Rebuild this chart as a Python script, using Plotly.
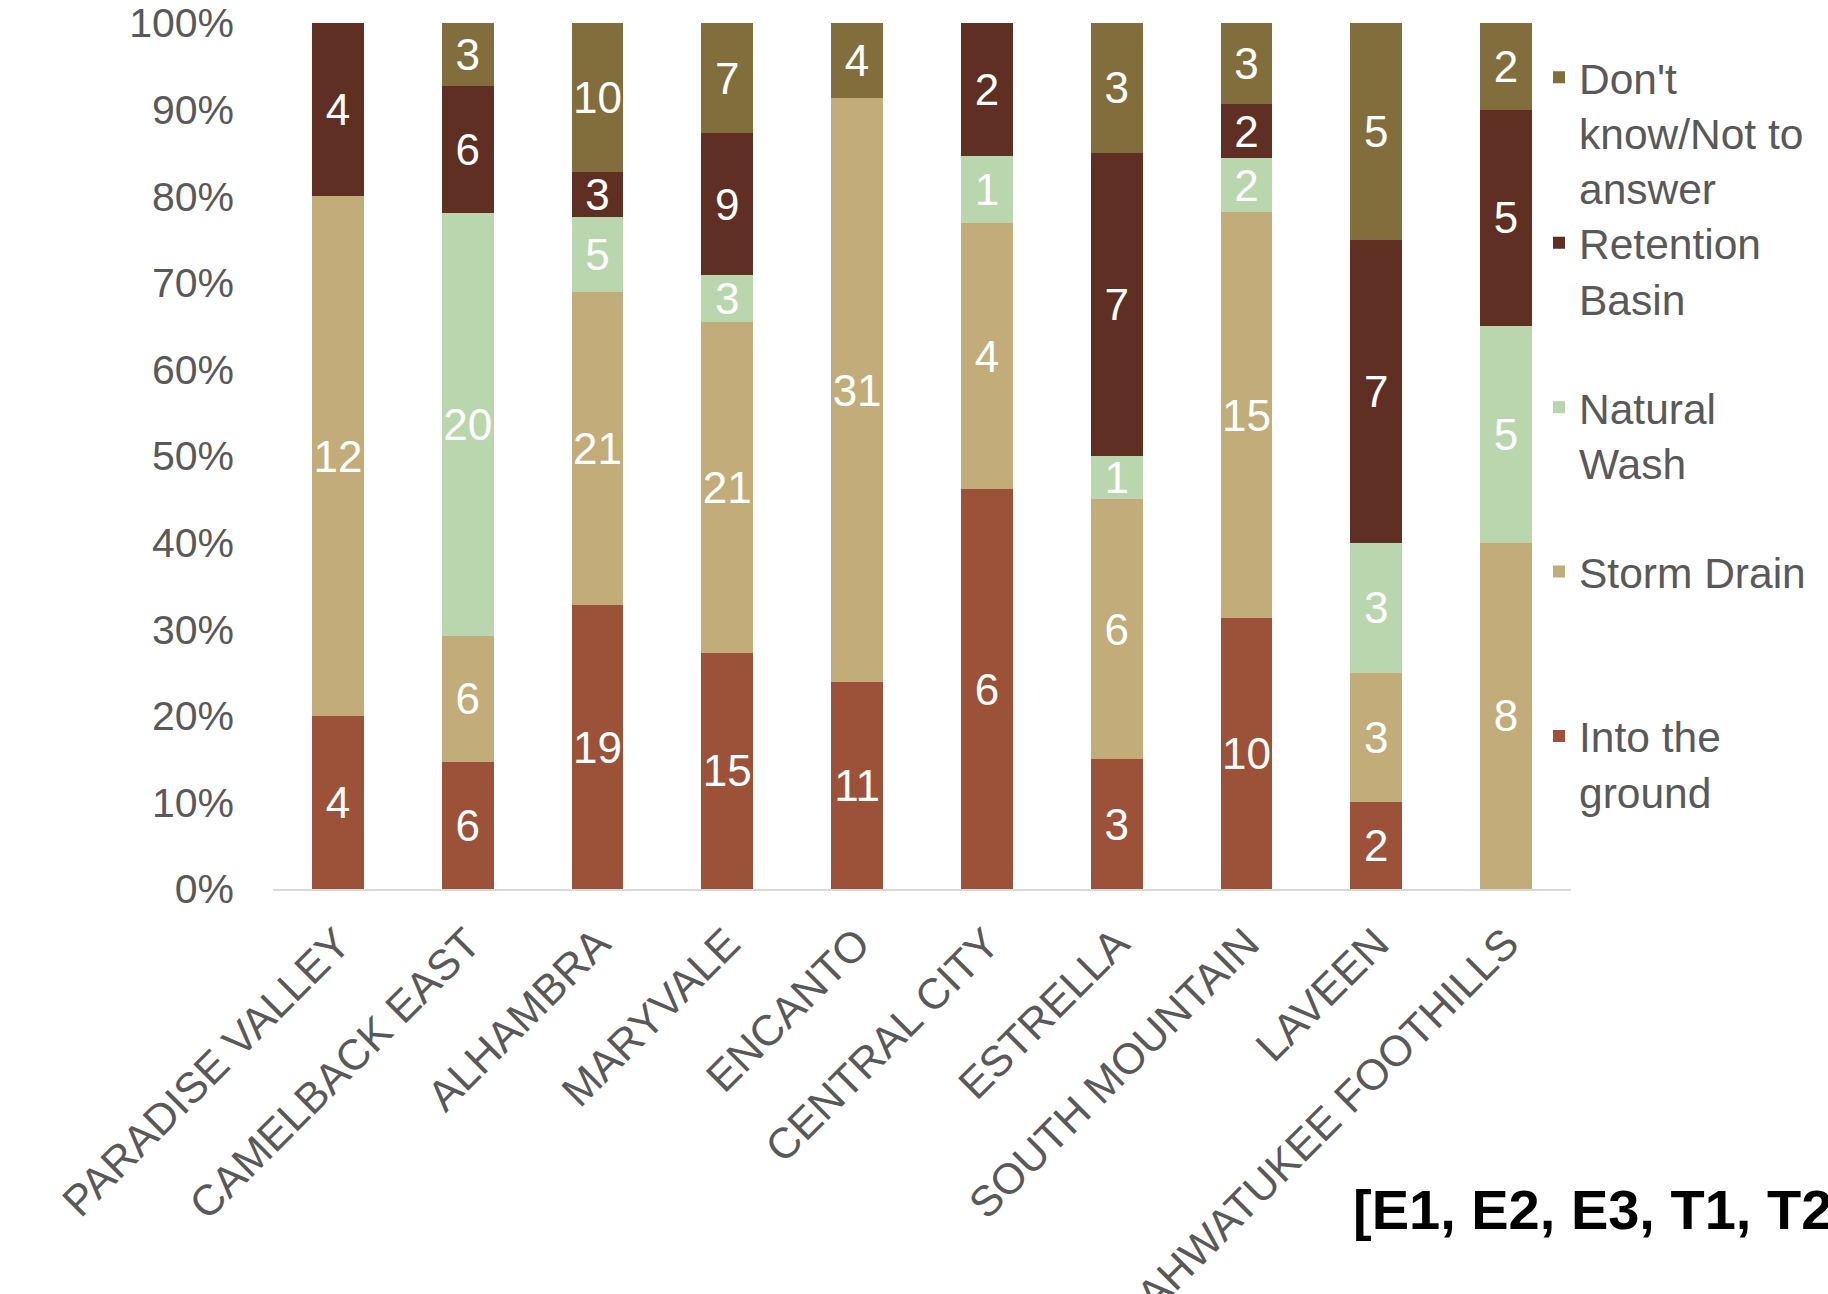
import plotly.graph_objects as go

villages = ["PARADISE VALLEY", "CAMELBACK EAST", "ALHAMBRA", "MARYVALE", "ENCANTO",
            "CENTRAL CITY", "ESTRELLA", "SOUTH MOUNTAIN", "LAVEEN", "AHWATUKEE FOOTHILLS"]

into_ground = [4, 6, 19, 15, 11, 6, 3, 10, 2, 0]
storm_drain = [12, 6, 21, 21, 31, 4, 6, 15, 3, 8]
natural_wash = [0, 20, 5, 3, 0, 1, 1, 2, 3, 5]
retention_basin = [4, 6, 3, 9, 0, 2, 7, 2, 7, 5]
dont_know = [0, 3, 10, 7, 4, 0, 3, 3, 5, 2]

series_names = ["Into the<br>ground", "Storm Drain", "Natural<br>Wash",
                "Retention<br>Basin", "Don't<br>know/Not to<br>answer"]
series_values = [into_ground, storm_drain, natural_wash, retention_basin, dont_know]
series_colors = ["#9C5238", "#C2AC79", "#BAD6AE", "#5E2F22", "#826E3C"]

FONT = "Liberation Sans, Arial, sans-serif"
GREY = "#595959"

# page body margin is removed, so figure px == page px
W, H = 1828, 1294
ML, MR, MT, MB = 273, 257, 23, 405
PW, PH = W - ML - MR, H - MT - MB

# legend entry marker centres (px) and legend font
legend_marker_y = [735.9, 571.6, 407.2, 242.8, 77.3]
LEG_FONT = 42.5
marker_off = 6.5 + 1.3 * LEG_FONT / 2

fig = go.Figure()
legend_layouts = {}
for i, (name, vals, color) in enumerate(zip(series_names, series_values, series_colors)):
    lname = "legend" if i == 0 else f"legend{i + 1}"
    fig.add_trace(go.Bar(
        x=villages, y=vals, name=name, legend=lname,
        marker=dict(color=color, line=dict(width=0)),
        text=[str(v) if v else "" for v in vals],
        textposition="inside", insidetextanchor="middle",
        constraintext="none", textangle=0,
        textfont=dict(family=FONT, size=44, color="white"),
        hoverinfo="skip",
    ))
    top = legend_marker_y[i] - marker_off
    legend_layouts[lname] = dict(
        x=(1539 - ML) / PW, xanchor="left",
        y=1 - (top - MT) / PH, yanchor="top",
        font=dict(family=FONT, size=LEG_FONT, color=GREY),
        valign="top", bgcolor="rgba(0,0,0,0)", borderwidth=0,
    )

fig.update_layout(
    width=W, height=H,
    margin=dict(l=ML, r=MR, t=MT, b=MB, pad=0, autoexpand=False),
    barmode="stack", barnorm="percent", bargap=0.6,
    plot_bgcolor="white", paper_bgcolor="white",
    font=dict(family=FONT, color=GREY),
    showlegend=True,
    xaxis=dict(
        tickangle=-45, tickfont=dict(family=FONT, size=43, color=GREY),
        showline=True, linecolor="#D9D9D9", linewidth=2,
        showgrid=False, ticks="", ticklabelstandoff=10, automargin=False,
        ticklabeloverflow="allow",
    ),
    yaxis=dict(
        range=[0, 100], tickmode="linear", tick0=0, dtick=10,
        ticksuffix="%", tickfont=dict(family=FONT, size=41, color=GREY),
        showgrid=False, showline=False, zeroline=False, ticks="",
        ticklabelstandoff=38, automargin=False, ticklabeloverflow="allow",
    ),
    **legend_layouts,
)

fig.add_annotation(
    text="<b>[E1, E2, E3, T1, T2]</b>",
    xref="paper", yref="paper",
    x=(1351 - ML) / PW, xanchor="left",
    y=1 - (1209 - MT) / PH, yanchor="middle",
    showarrow=False,
    font=dict(family=FONT, size=56, color="black"),
)

fig.write_html(
    "out.html",
    config={"displayModeBar": False},
    post_script="document.body.style.margin='0px';document.body.style.overflow='hidden';",
)
